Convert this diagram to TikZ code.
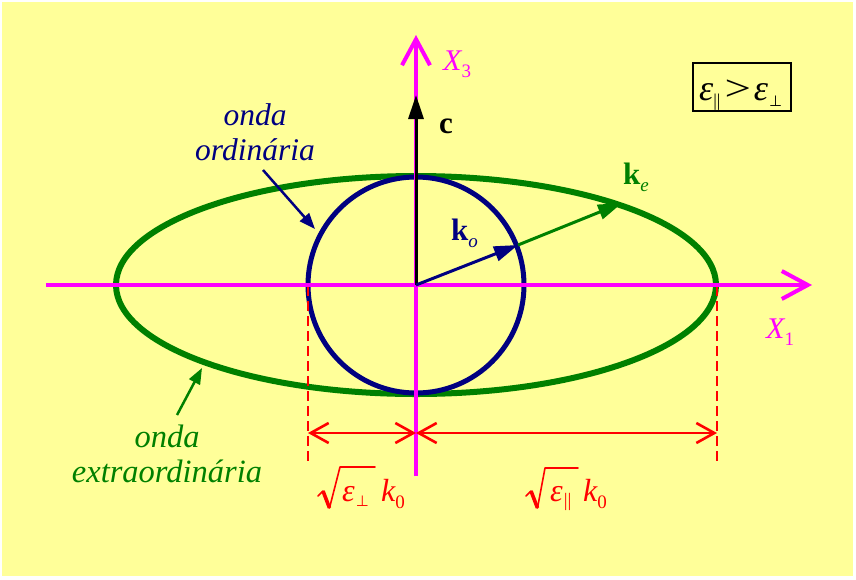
\documentclass[tikz,border=0pt]{standalone}
\usepackage{fontspec}
\setmainfont{Liberation Serif}
\newfontfamily\symfont{DejaVu Sans}
\usetikzlibrary{arrows.meta}
\definecolor{bgy}{RGB}{255,255,153}
\definecolor{mag}{RGB}{255,0,255}
\definecolor{grn}{RGB}{0,128,0}
\definecolor{nvy}{RGB}{0,0,128}
\definecolor{rd}{RGB}{255,0,0}
\newcommand{\subsz}{\fontsize{19}{20}\selectfont}
\tikzset{
  axis/.style={mag,line width=4pt,-{Straight Barb[length=26pt,width=28pt,line width=4pt]}},
  dimarrow/.style={rd,line width=2.6pt,{Straight Barb[length=18pt,width=20pt,line width=2.6pt]}-{Straight Barb[length=18pt,width=20pt,line width=2.6pt]}},
  dashline/.style={rd,line width=2.7pt,dash pattern=on 10pt off 5pt},
  vec/.style={line width=3pt,-{Triangle[length=24pt,width=15pt]}},
  lbl/.style={font=\fontsize{31.5}{35}\selectfont\itshape,align=center,inner sep=0pt},
  mlbl/.style={font=\fontsize{31}{33}\selectfont,inner sep=0pt,anchor=base west},
  radthin/.style={rd,line width=1.6pt,line cap=round,line join=round},
  radthick/.style={rd,line width=3.6pt}
}
\begin{document}
\begin{tikzpicture}[x=1pt,y=-1pt]
\useasboundingbox (0,0) rectangle (856,579);
\fill[white] (0,0) rectangle (856,579);
\fill[bgy] (2,2) rectangle (853,576);
\coordinate (O) at (416,285);
% ellipse and circle
\draw[grn,line width=6pt] (O) ellipse [x radius=300, y radius=109];
\draw[nvy,line width=5pt] (O) circle [radius=108];
% dashed lines
\coordinate (dL) at (308,286);
\coordinate (dLb) at (308,462);
\coordinate (dR) at (717,286);
\coordinate (dRb) at (717,462);
\draw[dashline] (dL) -- (dLb);
\draw[dashline] (dR) -- (dRb);
% axes
\coordinate (x1s) at (46,285);
\coordinate (x1e) at (812,285);
\coordinate (x3s) at (416,476);
\coordinate (x3e) at (416,35);
\draw[axis] (x1s) -- (x1e);
\draw[axis] (x3s) -- (x3e);
\node[mlbl,text=mag,font=\fontsize{30}{32}\selectfont] (X3) at (443,70) {\itshape X\raisebox{-7pt}{\subsz\upshape 3}};
\node[mlbl,text=mag,font=\fontsize{30}{32}\selectfont] (X1) at (766,338) {\itshape X\raisebox{-7pt}{\subsz\upshape 1}};
% c vector
\coordinate (cE) at (416,95);
\draw[vec,black] (O) -- (cE);
\node[mlbl] (c) at (439,133) {\bfseries c};
% k vectors
\coordinate (kO) at (518,245);
\coordinate (kE) at (622,203);
\draw[vec,grn] (kO) -- (kE);
\draw[vec,nvy] (O) -- (kO);
\node[mlbl,text=nvy] (ko) at (451,240) {\bfseries k\raisebox{-7pt}{\subsz\mdseries\itshape o}};
\node[mlbl,text=grn] (ke) at (623,184) {\bfseries k\raisebox{-7pt}{\subsz\mdseries\itshape e}};
% dimension arrows
\coordinate (aL) at (308,433);
\coordinate (aM) at (416,433);
\coordinate (aR) at (717,433);
\draw[dimarrow] (aL) -- (aM);
\draw[dimarrow] (aM) -- (aR);
% sqrt(eps_perp) k0
\draw[radthin] (318,496) -- (323,491);
\draw[radthick] (323,491) -- (329.5,508);
\draw[radthin] (329.5,508) -- (340,467) -- (375,467);
\node[mlbl,text=rd,font=\fontsize{32}{33}\selectfont] (sp) at (342,501) {\itshape ε\hspace{1pt}\raisebox{-5pt}{\symfont\fontsize{15}{16}\selectfont ⊥}};
\node[mlbl,text=rd,font=\fontsize{32}{33}\selectfont] (spk) at (381,501) {\itshape k\raisebox{-7pt}{\subsz\upshape 0}};
% sqrt(eps_par) k0
\draw[radthin] (526,496) -- (531,491);
\draw[radthick] (531,491) -- (537.5,508);
\draw[radthin] (537.5,508) -- (545,468) -- (578,468);
\node[mlbl,text=rd,font=\fontsize{32}{33}\selectfont] (sa) at (550,501) {\itshape ε\hspace{1pt}\raisebox{-5pt}{\fontsize{19}{20}\selectfont\upshape ||}};
\node[mlbl,text=rd,font=\fontsize{32}{33}\selectfont] (sak) at (583,501) {\itshape k\raisebox{-7pt}{\subsz\upshape 0}};
% box
\node[draw=black,line width=1.5pt,minimum width=98pt,minimum height=48pt,inner sep=0pt] (box) at (742,87) {};
\node[mlbl,font=\fontsize{36}{40}\selectfont] (boxtxt) at (699,100) {\itshape ε\raisebox{-6pt}{\fontsize{18}{19}\selectfont\upshape ||}\hspace{4pt}\upshape\scalebox{1.3}[1]{>}\hspace{3pt}\itshape ε\hspace{1pt}\raisebox{-6pt}{\symfont\fontsize{15}{16}\selectfont ⊥}};
% labels
\node[lbl,text=nvy] (ord) at (255,132) {onda\\ordinária};
\coordinate (ordA) at (263,170);
\coordinate (ordB) at (315,229);
\draw[nvy,line width=2.5pt,-{Triangle[length=16pt,width=12pt]}] (ordA) -- (ordB);
\node[lbl,text=grn,font=\fontsize{32.5}{35}\selectfont\itshape] (ext) at (167,454) {onda\\extraordinária};
\coordinate (extA) at (177,415);
\coordinate (extB) at (202,368);
\draw[grn,line width=2.5pt,-{Triangle[length=16pt,width=12pt]}] (extA) -- (extB);
\end{tikzpicture}
\end{document}
